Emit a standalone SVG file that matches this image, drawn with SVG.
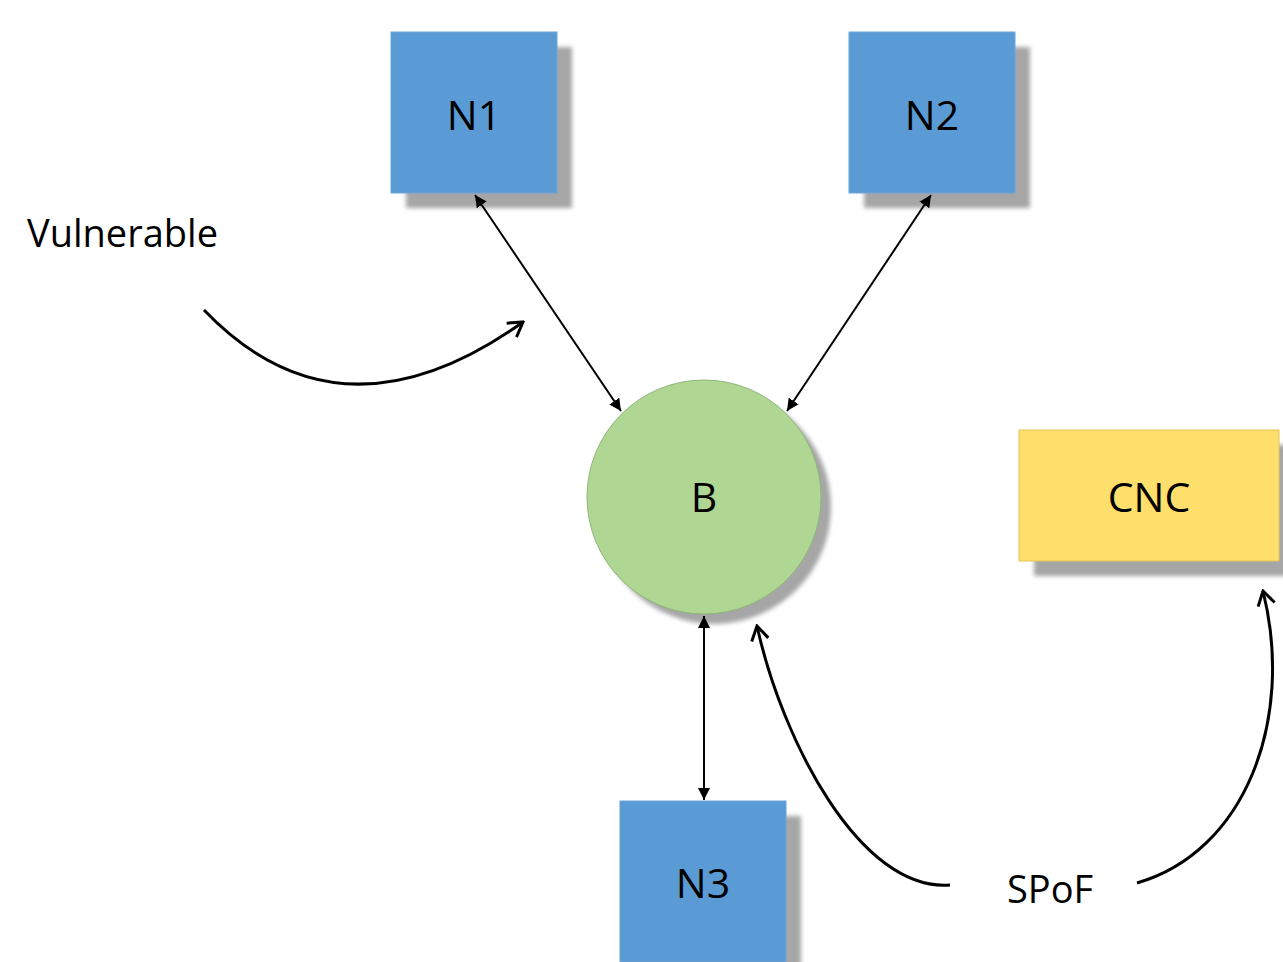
<svg xmlns="http://www.w3.org/2000/svg" width="1283" height="962" viewBox="0 0 1283 962">
<defs>
<filter id="blur" x="-10%" y="-10%" width="130%" height="130%"><feGaussianBlur stdDeviation="2"/></filter>
<marker id="tri" viewBox="0 0 10 10" refX="10" refY="5" markerWidth="6" markerHeight="6" orient="auto-start-reverse" markerUnits="strokeWidth"><path d="M0,0 L10,5 L0,10 z" fill="#000"/></marker>
<marker id="open" viewBox="0 0 20 20" refX="18" refY="10" markerWidth="20" markerHeight="20" orient="auto" markerUnits="userSpaceOnUse"><path d="M4,1.5 L18,10 L4,18.5" fill="none" stroke="#000" stroke-width="3" stroke-linecap="butt"/></marker>
</defs>
<style>
.sh{fill:#a6a6a6;filter:url(#blur)}
.blue{fill:#5b9bd5;stroke:#6fa5d8;stroke-width:1}
.lbl{font-family:"Open Sans","Liberation Sans",sans-serif;font-size:41px;fill:#000;text-anchor:middle}
.txt{font-family:"Open Sans","Liberation Sans",sans-serif;font-size:38px;fill:#000}
.con{stroke:#000;stroke-width:2;fill:none}
.cur{stroke:#000;stroke-width:3;fill:none}
</style>
<rect width="1283" height="962" fill="#fff"/>
<g id="N1"><rect class="sh" x="406" y="47" width="166" height="161"/><rect class="blue" x="391" y="32" width="166" height="161"/><text class="lbl" x="474" y="130">N1</text></g>
<g id="N2"><rect class="sh" x="864" y="47" width="166" height="161"/><rect class="blue" x="849" y="32" width="166" height="161"/><text class="lbl" x="932" y="130">N2</text></g>
<g id="N3"><rect class="sh" x="635" y="816" width="166" height="161"/><rect class="blue" x="620" y="801" width="166" height="161"/><text class="lbl" x="703" y="898">N3</text></g>
<g id="B"><circle class="sh" cx="714" cy="507" r="117"/><circle cx="704" cy="497" r="117" fill="#afd793" stroke="#8fb87a" stroke-width="1"/><text class="lbl" x="704" y="512">B</text></g>
<g id="CNC"><rect class="sh" x="1034" y="445" width="260" height="131"/><rect x="1019" y="430" width="260" height="131" fill="#ffdf6b" stroke="#e6c55a" stroke-width="1"/><text class="lbl" x="1149" y="512">CNC</text></g>
<g id="labels">
<text class="txt" x="27" y="247">Vulnerable</text>
<text class="txt" x="1007" y="903">SPoF</text>
</g>
<g id="connectors">
<line class="con" x1="475" y1="195" x2="621" y2="411" marker-start="url(#tri)" marker-end="url(#tri)"/>
<line class="con" x1="931" y1="195" x2="787" y2="411" marker-start="url(#tri)" marker-end="url(#tri)"/>
<line class="con" x1="704" y1="616" x2="704" y2="800" marker-start="url(#tri)" marker-end="url(#tri)"/>
<path class="cur" d="M204,310 Q340,452 523,322" marker-end="url(#open)"/>
<path class="cur" d="M950,885 C860,892 782,740 757,626" marker-end="url(#open)"/>
<path class="cur" d="M1137,883 C1245,852 1295,720 1263,591" marker-end="url(#open)"/>
</g>
</svg>
